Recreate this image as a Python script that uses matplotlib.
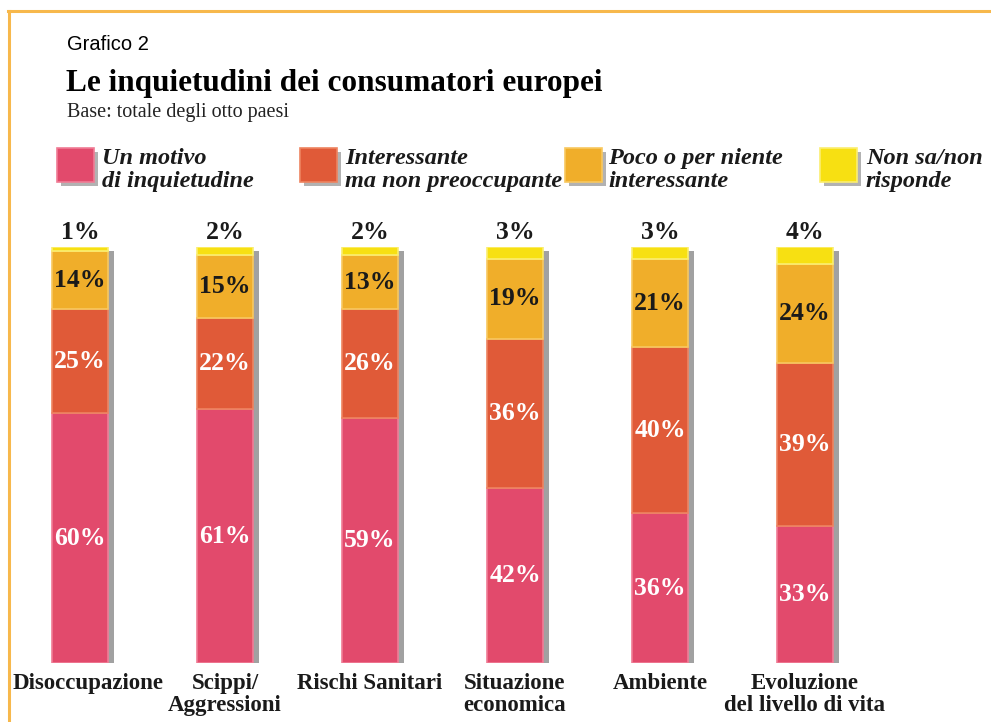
import matplotlib.pyplot as plt
import matplotlib.patheffects as pe
from matplotlib.patches import Rectangle
from matplotlib.lines import Line2D

# Data
categories = ['Disoccupazione', 'Scippi/\nAggressioni', 'Rischi Sanitari',
              'Situazione\neconomica', 'Ambiente', 'Evoluzione\ndel livello di vita']
motivo = [60, 61, 59, 42, 36, 33]
interessante = [25, 22, 26, 36, 40, 39]
poco = [14, 15, 13, 19, 21, 24]
non_sa = [1, 2, 2, 3, 3, 4]

series_names = ['Un motivo\ndi inquietudine', 'Interessante\nma non preoccupante',
                'Poco o per niente\ninteressante', 'Non sa/non\nrisponde']
colors = ['#E24A6C', '#E05A38', '#F0AE2A', '#F7E012']
edge_colors = ['#F07C95', '#EE8460', '#F8C860', '#FBEE70']
text_colors = ['white', 'white', '#1a1a1a', '#1a1a1a']

W, H = 991, 722
fig = plt.figure(figsize=(W / 100, H / 100), dpi=100)
fig.patch.set_facecolor('white')

# orange frame (top and left)
fig.add_artist(Line2D([8 / W, 1], [1 - 11 / H, 1 - 11 / H], color='#F7B84C', lw=2.2))
fig.add_artist(Line2D([8.5 / W, 8.5 / W], [0, 1 - 11 / H], color='#F7B84C', lw=2.2))

# titles
serif = ['Liberation Serif', 'DejaVu Serif']
fig.text(67 / W, 1 - 45 / H, 'Grafico 2', fontsize=14.5, va='center',
         family=['Liberation Sans Narrow', 'Liberation Sans', 'DejaVu Sans'])
fig.text(66 / W, 1 - 83 / H, 'Le inquietudini dei consumatori europei', fontsize=22.5,
         fontweight='bold', va='center', family=serif)
fig.text(67 / W, 1 - 112 / H, 'Base: totale degli otto paesi', fontsize=14.5,
         va='center', family=serif, color='#222222')

# legend
leg_box_x = [57, 300, 565, 820]
leg_text_x = [102, 345, 608, 866]
for i in range(4):
    sq = Rectangle((leg_box_x[i] / W, 1 - 182 / H), 37 / W, 34 / H,
                   transform=fig.transFigure, facecolor=colors[i],
                   edgecolor=edge_colors[i], lw=1.2,
                   path_effects=[pe.SimplePatchShadow(offset=(3, -3), shadow_rgbFace='#555555', alpha=0.45),
                                 pe.Normal()])
    fig.add_artist(sq)
    fig.text(leg_text_x[i] / W, 1 - 170 / H, series_names[i], fontsize=17.5,
             fontweight='bold', fontstyle='italic', va='center', family=serif,
             linespacing=1.12, color='#1a1a1a')

# bar axes: centers at px 80 + 145*i, bottom px 663, 100% at px 247
ax = fig.add_axes([8 / W, 59 / H, (W - 8) / W, 416 / H])
x0 = -72 / 145
ax.set_xlim(x0, x0 + (W - 8) / 145)
ax.set_ylim(0, 100)
ax.axis('off')

xs = list(range(len(categories)))
width = 56 / 145
stack = [motivo, interessante, poco, non_sa]
totals = [sum(t) for t in zip(*stack)]

# one soft shadow per whole bar, drawn behind the segments
shadows = ax.bar(xs, totals, width, color='#444444', linewidth=0)
for b in shadows:
    b.set_path_effects([pe.SimplePatchShadow(offset=(4, -3), shadow_rgbFace='#444444', alpha=0.5)])
    b.set_facecolor('none')

bottom = [0] * len(xs)
for k, vals in enumerate(stack):
    ax.bar(xs, vals, width, bottom=bottom, color=colors[k],
           edgecolor=edge_colors[k], linewidth=1.2)
    for i, v in enumerate(vals):
        if k < 3:
            ax.text(xs[i], bottom[i] + v / 2, f'{v}%', ha='center', va='center',
                    fontsize=18.5, fontweight='bold', color=text_colors[k], family=serif)
        else:
            ax.text(xs[i], bottom[i] + v + 0.8, f'{v}%', ha='center', va='bottom',
                    fontsize=18.5, fontweight='bold', color='#1a1a1a', family=serif,
                    clip_on=False)
    bottom = [b + v for b, v in zip(bottom, vals)]

for i, c in enumerate(categories):
    # first label sits a little right of its bar so it clears the frame
    dx = 0.055 if i == 0 else 0
    ax.text(xs[i] + dx, -2.4, c, ha='center', va='top', fontsize=16.5, fontweight='bold',
            family=serif, linespacing=1.08, color='#1a1a1a', clip_on=False)

fig.savefig('out.png', dpi=100)
